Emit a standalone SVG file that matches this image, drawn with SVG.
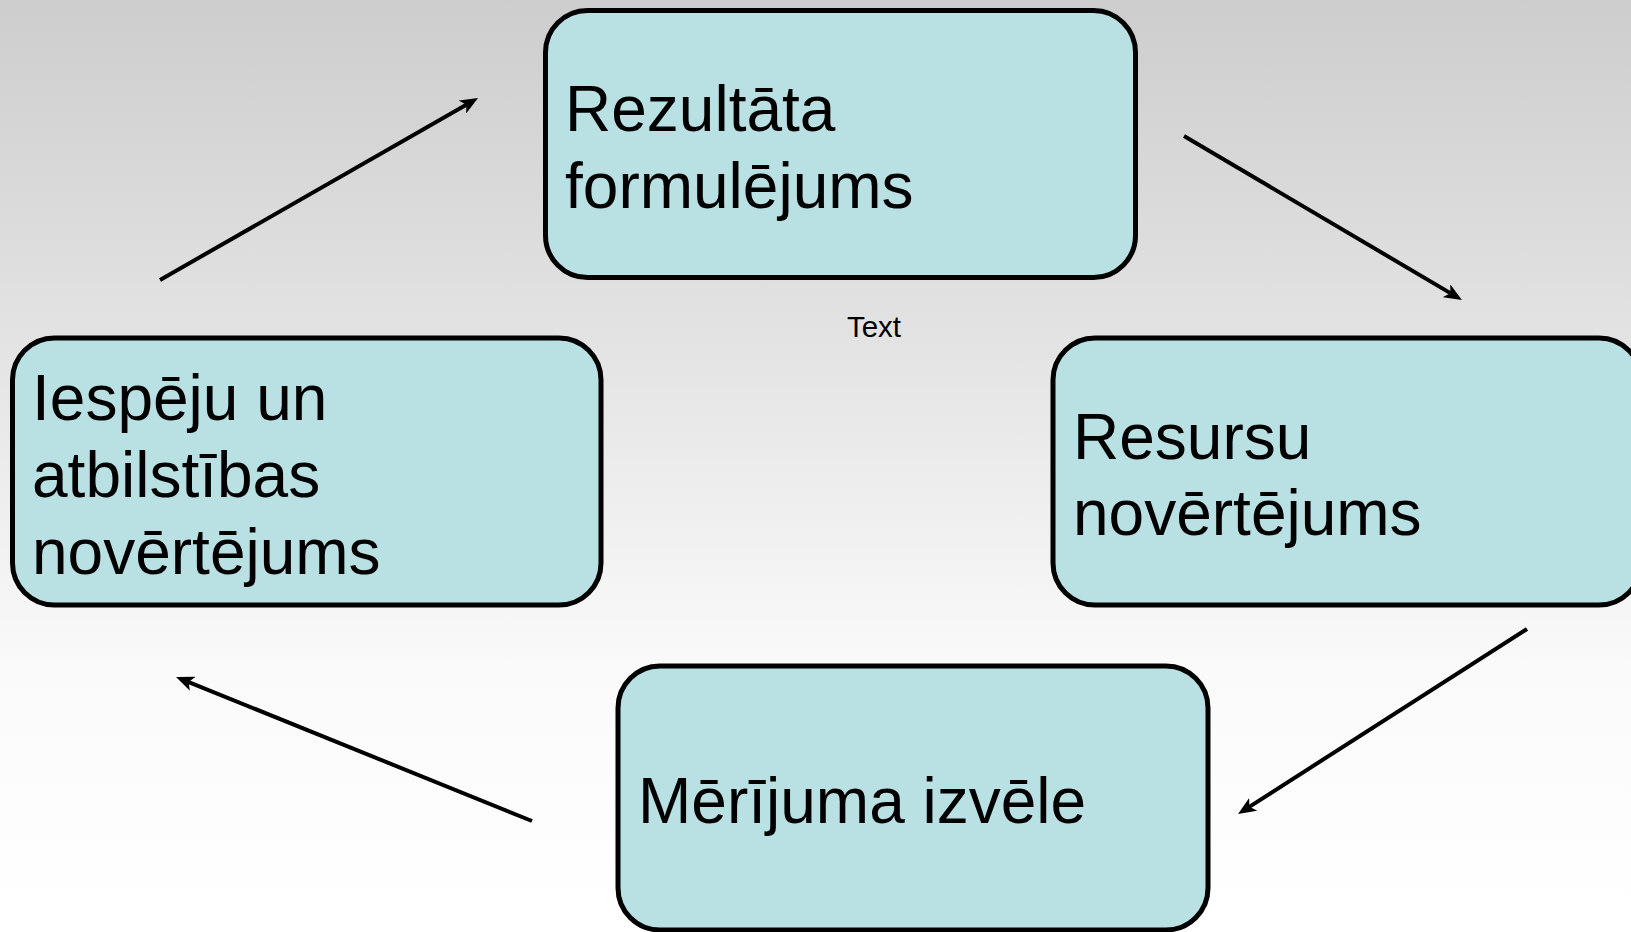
<svg xmlns="http://www.w3.org/2000/svg" width="1631" height="932" viewBox="0 0 1631 932">
  <defs>
    <linearGradient id="bg" x1="0" y1="0" x2="0" y2="1">
      <stop offset="0" stop-color="#cdcdcd"/>
      <stop offset="0.35" stop-color="#e2e2e2"/>
      <stop offset="0.72" stop-color="#fafafa"/>
      <stop offset="1" stop-color="#ffffff"/>
    </linearGradient>
    <marker id="arrow" viewBox="0 0 18 15" refX="7" refY="7.5" markerWidth="18" markerHeight="15" markerUnits="userSpaceOnUse" orient="auto">
      <path d="M0,0 L18,7.5 L0,15 L4.5,7.5 z" fill="#000"/>
    </marker>
  </defs>
  <style>
    .box { fill: #b9e0e3; stroke: #000; stroke-width: 5; }
    .lbl { font-family: "Liberation Sans", Arial, sans-serif; font-size: 64px; fill: #000; }
    .small { font-family: "Liberation Sans", Arial, sans-serif; font-size: 29.5px; fill: #000; }
    .conn { stroke: #000; stroke-width: 4; fill: none; marker-end: url(#arrow); }
  </style>
  <rect x="0" y="0" width="1631" height="932" fill="url(#bg)"/>

  <g id="connectors">
    <line class="conn" x1="160" y1="280" x2="468.5" y2="103.5"/>
    <line class="conn" x1="1184" y1="136" x2="1452.5" y2="294.4"/>
    <line class="conn" x1="1527" y1="629" x2="1247.3" y2="808.1"/>
    <line class="conn" x1="532" y1="821" x2="186.2" y2="681.1"/>
  </g>

  <g id="node-rezultata">
    <rect class="box" x="545.5" y="10.5" width="590" height="267" rx="42" ry="42"/>
    <text class="lbl" x="565" y="131">Rezultāta</text>
    <text class="lbl" x="565" y="208">formulējums</text>
  </g>

  <g id="node-resursu">
    <rect class="box" x="1053" y="338" width="588" height="267" rx="42" ry="42"/>
    <text class="lbl" x="1073" y="459">Resursu</text>
    <text class="lbl" x="1073" y="535">novērtējums</text>
  </g>

  <g id="node-merijuma">
    <rect class="box" x="618" y="666" width="590" height="264" rx="42" ry="42"/>
    <text class="lbl" x="638" y="823">Mērījuma izvēle</text>
  </g>

  <g id="node-iespeju">
    <rect class="box" x="12.5" y="338" width="588.5" height="267" rx="42" ry="42"/>
    <text class="lbl" x="32" y="420">Iespēju un</text>
    <text class="lbl" x="32" y="497">atbilstības</text>
    <text class="lbl" x="32" y="574">novērtējums</text>
  </g>

  <g id="label-text">
    <text class="small" x="874" y="337" text-anchor="middle">Text</text>
  </g>
</svg>
